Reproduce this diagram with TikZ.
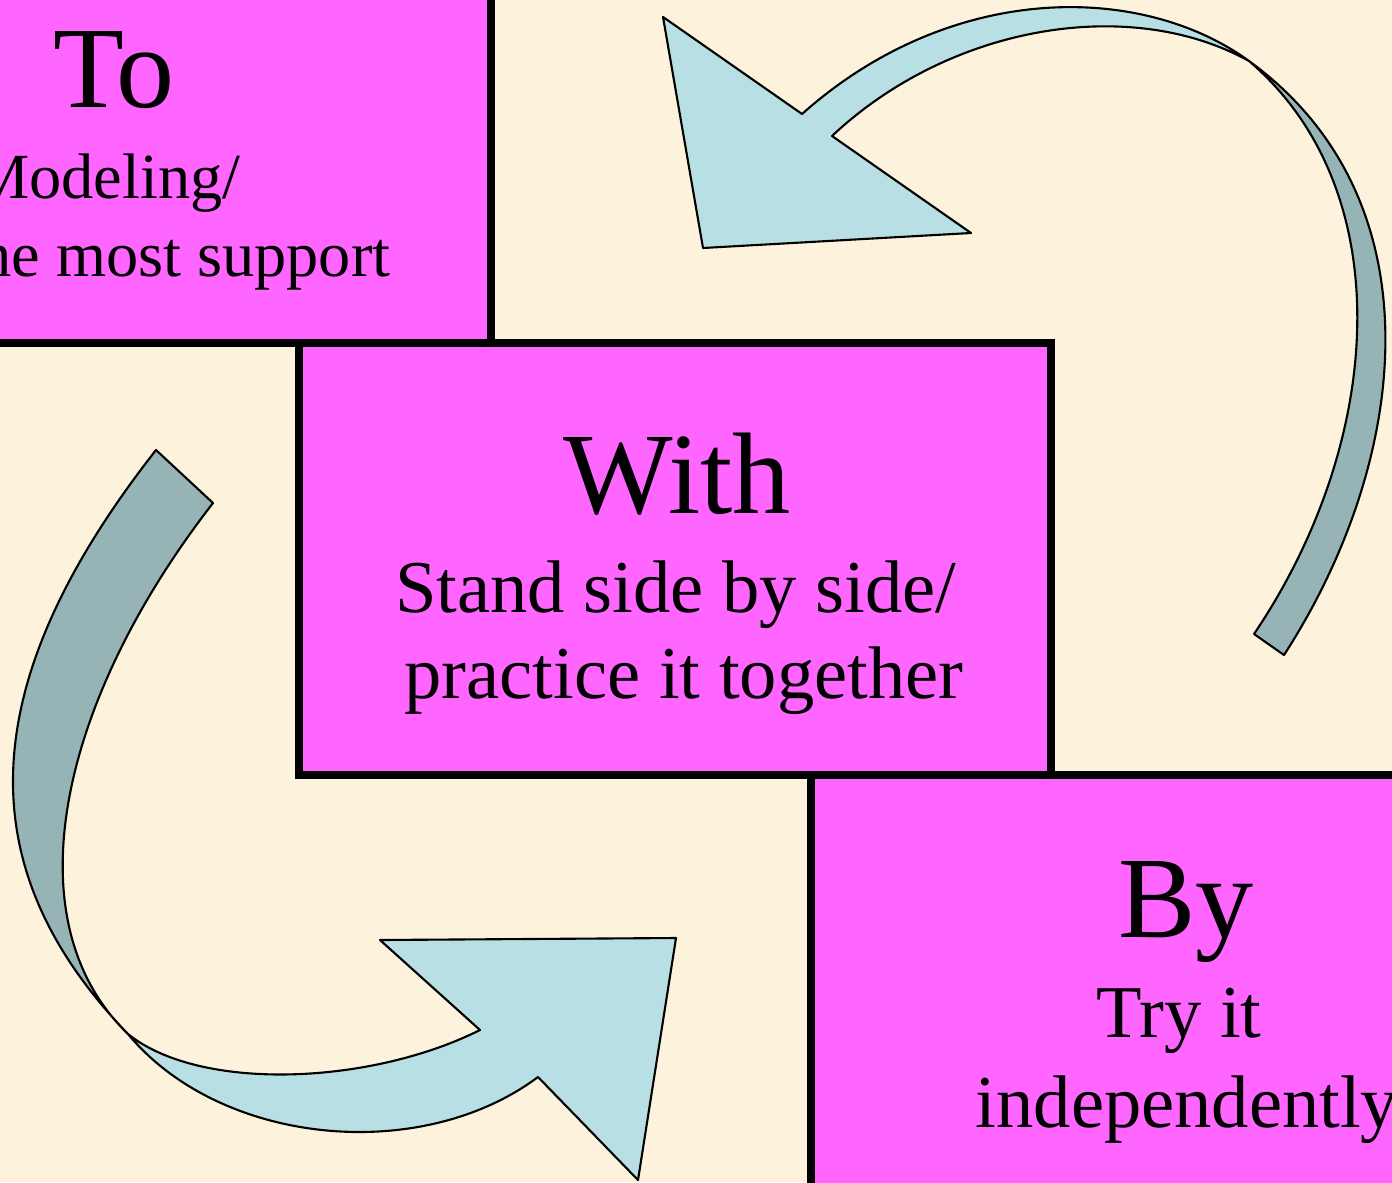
\documentclass[tikz,border=0pt]{standalone}
\usepackage{fontspec}
\setmainfont{Liberation Serif}
\definecolor{stagepink}{HTML}{FF66FF}
\definecolor{paper}{HTML}{FDF2DC}
\definecolor{arrowlight}{HTML}{B8E0E4}
\definecolor{arrowdark}{HTML}{96B4B6}

\begin{document}
\begin{tikzpicture}[x=0.01cm,y=-0.01cm,
  stage/.style={draw=black,line width=2.3pt,fill=stagepink,minimum width=7.52cm,minimum height=4.32cm,inner sep=0pt},
  word/.style={font=\fontsize{33}{36}\selectfont,inner sep=0pt,anchor=base},
  say/.style={font=\fontsize{21.2}{24}\selectfont,inner sep=0pt,anchor=base},
  saysmall/.style={font=\fontsize{18.3}{22}\selectfont,inner sep=0pt,anchor=base east},
  front/.style={fill=arrowlight,draw=black,line width=0.6pt,line join=round},
  back/.style={fill=arrowdark,draw=black,line width=0.6pt,line join=round}]
\useasboundingbox (0,0) rectangle (1392,1182);
\clip (0,0) rectangle (1392,1182);
\fill[paper] (0,0) rectangle (1392,1182);

% the three boxes
\node[stage] (to) at (115,127) {};
\node[stage] (with) at (675,559) {};
\node[stage] (by) at (1187,991) {};

\node[word] (toword) at (114,108) {To};
\node[saysmall] (tosub1) at (241,199) {Modeling/};
\node[saysmall] (tosub2) at (391,276) {the most support};

\node[word] (withword) at (677,513) {With};
\node[say] (withsub1) at (676,612) {Stand side by side/};
\node[say] (withsub2) at (684,698) {practice it together};

\node[word] (byword) at (1186,937) {By};
\node[say] (bysub1) at (1179,1037) {Try it};
\node[say] (bysub2) at (1187,1127) {independently};

% arrow round the right side
\draw[back] (1284,655) .. controls (1410,460) and (1440,200) .. (1249,61)
  .. controls (1400,190) and (1385,440) .. (1254,634) -- cycle;
\draw[front] (1249,61) .. controls (1140,-18) and (950,-18) .. (802,114)
  -- (663,17) -- (703,248) -- (971,233) -- (832,136)
  .. controls (950,25) and (1130,-5) .. (1249,61) -- cycle;

% arrow round the left side
\draw[back] (156,450) .. controls (-40,700) and (-20,880) .. (128,1034)
  .. controls (10,920) and (60,700) .. (213,503) -- cycle;
\draw[front] (128,1034) .. controls (220,1145) and (420,1165) .. (538,1077)
  -- (638,1180) -- (676,938) -- (380,940) -- (480,1030)
  .. controls (370,1085) and (200,1092) .. (128,1034) -- cycle;
\end{tikzpicture}
\end{document}
